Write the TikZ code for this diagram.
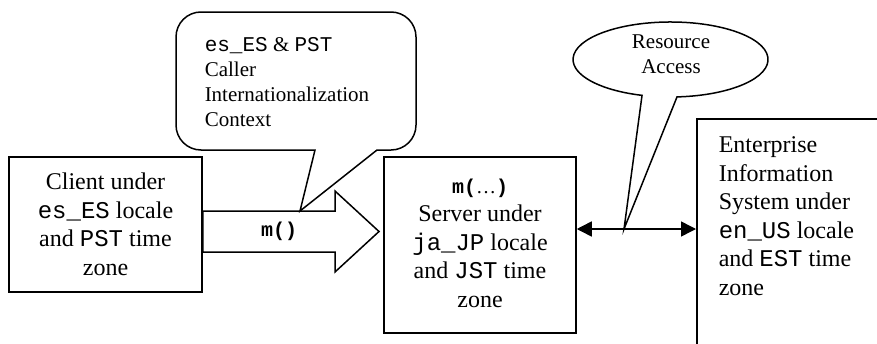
\documentclass[tikz,border=0pt]{standalone}
\usepackage{fontspec}
\setmainfont{Liberation Serif}
\setmonofont{Liberation Mono}
\usetikzlibrary{arrows.meta}
\begin{document}
\begin{tikzpicture}[x=1pt,y=-1pt,line width=1.5pt,
  box/.style={draw,line width=1.5pt,inner sep=0pt},
  txt/.style={inner sep=0pt},
  bigtext/.style={font=\fontsize{24}{28.5}\selectfont},
  smalltext/.style={font=\fontsize{21}{25}\selectfont},
  codelabel/.style={font=\fontsize{20}{24}\selectfont\ttfamily\bfseries},
  balloon/.style={draw,fill=white,line width=1.5pt,line join=miter},
  twoway/.style={{Triangle[length=15pt,width=15pt]}-{Triangle[length=15pt,width=15pt]}}]

\useasboundingbox (0,0) rectangle (877,343);
\clip (0,0) rectangle (877,343);

% the three systems
\node[box,minimum width=193pt,minimum height=135pt,bigtext,align=center]
  (client) at (105.5,224.5)
  {Client under\\\texttt{es\_ES} locale\\and \texttt{PST} time\\zone};

\node[box,minimum width=192pt,minimum height=176pt] (server) at (480,245) {};
\node[txt,bigtext,align=center] (servertext) at (480,243)
  {{\fontsize{20}{28.5}\selectfont\texttt{\textbf{m(}}…\texttt{\textbf{)}}}\\
   Server under\\\texttt{ja\_JP} locale\\and \texttt{JST} time\\zone};

\node[box,minimum width=300pt,minimum height=300pt,anchor=north west]
  (eis) at (696,118) {};
\node[txt,bigtext,align=left,anchor=west] (eistext) at (718,216)
  {Enterprise\\Information\\System under\\\texttt{en\_US} locale\\and \texttt{EST} time\\zone};

% remote call from client to server
\draw[balloon] (client.east |- 0,211) -- (335,211) -- (335,191) -- (379,231.5)
  -- (335,272) -- (335,252) -- (client.east |- 0,252) -- cycle;
\node[txt,codelabel] (mcall) at (279,231) {m()};

% resource access between server and EIS
\coordinate (accessy) at (0,229);
\draw[twoway] (server.east |- accessy) -- (eis.west |- accessy);
\coordinate (ratip) at (624,229);

% callout for the caller context
\coordinate (cctip) at (300,211);
\draw[balloon] (cctip) -- (315,150) -- (201,150)
  arc[start angle=270,end angle=180,radius=25pt] -- (176,37)
  arc[start angle=180,end angle=90,radius=25pt] -- (391,12)
  arc[start angle=90,end angle=0,radius=25pt] -- (416,125)
  arc[start angle=0,end angle=-90,radius=25pt] -- (377,150) -- cycle;
\node[txt,smalltext,align=left,anchor=west] (calltext) at (204,82)
  {\texttt{es\_ES} \& \texttt{PST}\\Caller\\Internationalization\\Context};

% callout for the resource access
\draw[balloon] (677,96.9)
  arc[start angle=273.8,end angle=613,x radius=97.5pt,y radius=37.5pt]
  -- (ratip) -- cycle;
\node[txt,smalltext,align=center] (ratext) at (671,54) {Resource\\Access};
\end{tikzpicture}
\end{document}
